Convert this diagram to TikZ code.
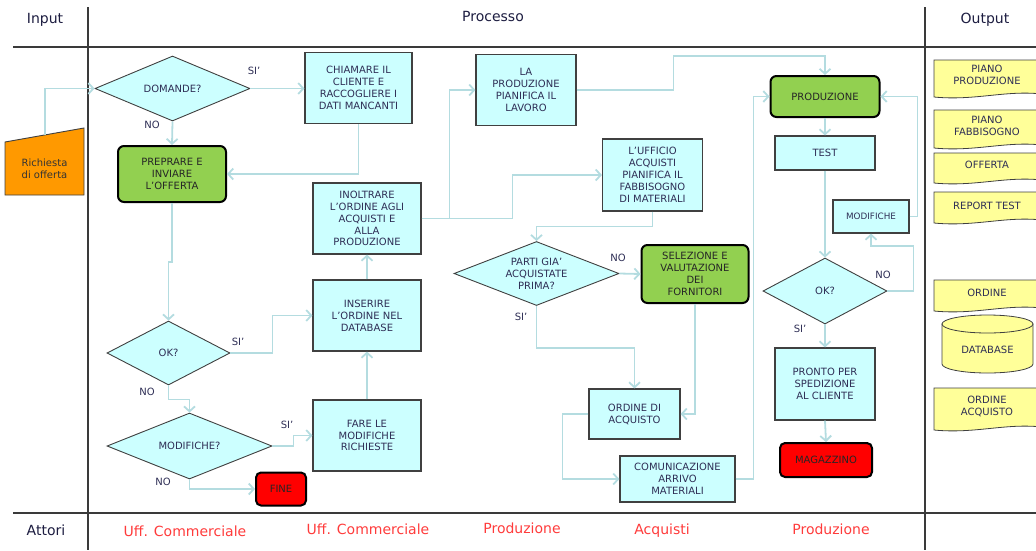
\documentclass[tikz,border=0pt]{standalone}
\usepackage{fontspec}
\setmainfont{DejaVu Sans}
\usetikzlibrary{arrows.meta,shapes.geometric}

\definecolor{cyanfill}{HTML}{CCFFFF}
\definecolor{edge}{HTML}{404040}
\definecolor{conncol}{HTML}{B4DCE0}
\definecolor{greenfill}{HTML}{92D050}
\definecolor{redfill}{HTML}{FF0000}
\definecolor{orangefill}{HTML}{FF9900}
\definecolor{docfill}{HTML}{FFFF99}
\definecolor{txt}{HTML}{2E2E55}
\definecolor{hdrtxt}{HTML}{1C1C40}
\definecolor{actorred}{HTML}{FF3B3B}
\definecolor{rulecol}{HTML}{3A3A3A}

% output document with a wavy lower edge: name, top, bottom, text y, text
\newcommand\outdoc[5]{%
  \filldraw[fill=docfill, draw=edge, line width=0.8pt]
    (934,#2) -- (1042,#2) -- (1042,#3-3)
    .. controls (1005,#3-7) and (975,#3+4) .. (934,#3) -- cycle;
  \node[txtfont] (#1) at (987,#4) {#5};
}

\begin{document}
\begin{tikzpicture}[x=1pt,y=-1pt,
  txtfont/.style={font=\fontsize{10}{11.9}\selectfont, text=txt, align=center},
  dims/.style 2 args={minimum width=#1pt, minimum height=#2pt},
  box/.style={txtfont, draw=edge, fill=cyanfill, line width=1.1pt, inner sep=1pt},
  gbox/.style={txtfont, text=black!85, draw=black, fill=greenfill, line width=2pt,
               rounded corners=6pt, inner sep=1pt},
  rbox/.style={txtfont, text=black!85, draw=black, fill=redfill, line width=2pt,
               rounded corners=5pt, inner sep=1pt},
  dia/.style={txtfont, shape=diamond, draw=edge, fill=cyanfill, line width=0.9pt,
              inner sep=0pt, aspect=2.5},
  conn/.style={draw=conncol, line width=1.8pt, line join=miter,
               -{Straight Barb[length=5pt,width=11pt]}},
  lbl/.style={txtfont},
  hdr/.style={font=\fontsize{14}{16}\selectfont, text=hdrtxt},
  actor/.style={font=\fontsize{14}{16}\selectfont, text=actorred},
]
\useasboundingbox (0,0) rectangle (1036,550);
\clip (0,0) rectangle (1036,550);

% swimlane frame
\draw[rulecol, line width=1.2pt] (13,47) -- (1036,47);
\draw[rulecol, line width=1.2pt] (13,513) -- (1036,513);
\draw[rulecol, line width=1.2pt] (88,7) -- (88,550);
\draw[rulecol, line width=1.2pt] (925,7) -- (925,550);

\node[hdr] (hin) at (45,20) {Input};
\node[hdr] (hproc) at (493,16) {Processo};
\node[hdr] (hout) at (985,20) {Output};
\node[hdr] (hatt) at (46,530) {Attori};

\node[actor] (a1) at (185,531) {Uff. Commerciale};
\node[actor] (a2) at (368,529) {Uff. Commerciale};
\node[actor] (a3) at (522,528) {Produzione};
\node[actor] (a4) at (662,531) {Acquisti};
\node[actor] (a5) at (831,529) {Produzione};

% input
\filldraw[fill=orangefill, draw=edge, line width=0.9pt]
  (5,142) -- (84,128) -- (84,195) -- (5,195) -- cycle;
\coordinate (reqtop) at (45,135);
\node[txtfont, text=black!80] (req) at (44.5,169) {Richiesta\\di offerta};

% commercial office
\node[dia, dims={155}{65}] (domande) at (172.5,88.5) {DOMANDE?};
\node[box, dims={107}{71}] (chiamare) at (358.5,88) {CHIAMARE IL\\CLIENTE E\\RACCOGLIERE I\\DATI MANCANTI};
\node[gbox, dims={108}{56}] (preparare) at (172,174) {PREPRARE E\\INVIARE\\L'OFFERTA};
\node[dia, dims={123}{64}] (ok1) at (168.5,353) {OK?};
\node[dia, dims={165}{66}] (modif) at (189.5,446) {MODIFICHE?};
\node[rbox, dims={50}{33}] (fine) at (281,489) {FINE};
\node[box, dims={108}{71}] (inoltrare) at (367,218.5) {INOLTRARE\\L'ORDINE AGLI\\ACQUISTI E\\ALLA\\PRODUZIONE};
\node[box, dims={108}{71}] (inserire) at (367,315.5) {INSERIRE\\L'ORDINE NEL\\DATABASE};
\node[box, dims={108}{71}] (fare) at (367,435.5) {FARE LE\\MODIFICHE\\RICHIESTE};

% production planning and purchasing
\node[box, dims={100}{71}] (laprod) at (526,90) {LA\\PRODUZIONE\\PIANIFICA IL\\LAVORO};
\node[box, dims={100}{72}] (ufficio) at (652.5,175) {L'UFFICIO\\ACQUISTI\\PIANIFICA IL\\FABBISOGNO\\DI MATERIALI};
\node[dia, dims={165}{64}] (parti) at (536.5,273.5) {PARTI GIA'\\ACQUISTATE\\PRIMA?};
\node[gbox, dims={107}{58}] (selezione) at (695,274) {SELEZIONE E\\VALUTAZIONE\\DEI\\FORNITORI};
\node[box, dims={91}{50}] (ordineacq) at (634.5,414) {ORDINE DI\\ACQUISTO};
\node[box, dims={115}{46}] (comunic) at (677.5,479) {COMUNICAZIONE\\ARRIVO\\MATERIALI};

% production
\node[gbox, dims={109}{41}] (produzione) at (825,96.5) {PRODUZIONE};
\node[box, dims={100}{34}] (test) at (825,153) {TEST};
\node[box, dims={76}{33}, font=\fontsize{8.8}{10.5}\selectfont] (modifiche) at (871,216.5) {MODIFICHE};
\node[dia, dims={124}{66}] (ok2) at (825,291) {OK?};
\node[box, dims={100}{72}] (pronto) at (825,384) {PRONTO PER\\SPEDIZIONE\\AL CLIENTE};
\node[rbox, dims={92}{34}] (magazzino) at (826,460) {MAGAZZINO};

% branch labels
\node[lbl] (si1) at (254,71) {SI'};
\node[lbl] (no1) at (152,125) {NO};
\node[lbl] (si2) at (238,342) {SI'};
\node[lbl] (no2) at (147,392) {NO};
\node[lbl] (si3) at (287,425) {SI'};
\node[lbl] (no3) at (163,482) {NO};
\node[lbl] (no4) at (618,258) {NO};
\node[lbl] (si4) at (521,317) {SI'};
\node[lbl] (no5) at (883,275) {NO};
\node[lbl] (si5) at (800,329) {SI'};

% connectors
\draw[conn] (reqtop) |- (domande.west);
\draw[conn] (domande.east) -- (domande.east -| chiamare.west);
\draw[conn] (domande.south) -- (preparare.north);
\draw[conn] (chiamare.south) |- (preparare.east);
\draw[conn] (preparare.south) -- ++(0,59) -| (ok1.north);
\draw[conn] (ok1.east) -- ++(42,0) |- (inserire.west);
\draw[conn] (ok1.south) -- ++(0,14) -| (modif.north);
\draw[conn] (modif.east) -- ++(21,0) |- (fare.west);
\draw[conn] (modif.south) |- (fine.west);
\draw[conn] (fare.north) -- (inserire.south);
\draw[conn] (inserire.north) -- (inoltrare.south);
\draw[conn] (inoltrare.east) -- ++(28,0) |- (laprod.west);
\draw[conn] (inoltrare.east) -- ++(91,0) |- (ufficio.west);
\draw[conn] (laprod.east) -- ++(97,0) -- ++(0,-34) -| (produzione.north);
\draw[conn] (ufficio.south) -- ++(0,15) -| (parti.north);
\draw[conn] (parti.east) -- (selezione.west);
\draw[conn] (parti.south) -- ++(0,42) -| (ordineacq.north);
\draw[conn] (selezione.south) |- (ordineacq.east);
\draw[conn] (ordineacq.west) -- ++(-26,0) |- (comunic.west);
\draw[conn] (comunic.east) -- ++(18,0) |- (produzione.west);
\draw[conn] (produzione.south) -- (test.north);
\draw[conn] (test.south) -- (ok2.north);
\draw[conn] (ok2.east) -- ++(26,0) -- ++(0,-45) -| (modifiche.south);
\draw[conn] (modifiche.east) -- ++(8,0) |- (produzione.east);
\draw[conn] (ok2.south) -- (pronto.north);
\draw[conn] (pronto.south) -- (magazzino.north);

% outputs
\outdoc{dpiano}{60}{97}{75}{PIANO\\PRODUZIONE}
\outdoc{dfabb}{110}{148}{126}{PIANO\\FABBISOGNO}
\outdoc{dofferta}{153}{183}{165}{OFFERTA}
\outdoc{dreport}{192}{223}{206}{REPORT TEST}
\outdoc{dordine}{280}{311}{293}{ORDINE}
\outdoc{dordacq}{388}{430}{406.5}{ORDINE\\ACQUISTO}

\filldraw[fill=docfill, draw=edge, line width=0.8pt]
  (942,324) -- (942,364) arc[start angle=180, end angle=360, x radius=45.5pt, y radius=9pt]
  -- (1033,324) -- cycle;
\filldraw[fill=docfill, draw=edge, line width=0.8pt]
  (987.5,324) ellipse [x radius=45.5pt, y radius=9pt];
\node[txtfont] (ddb) at (987.5,350) {DATABASE};
\end{tikzpicture}
\end{document}
